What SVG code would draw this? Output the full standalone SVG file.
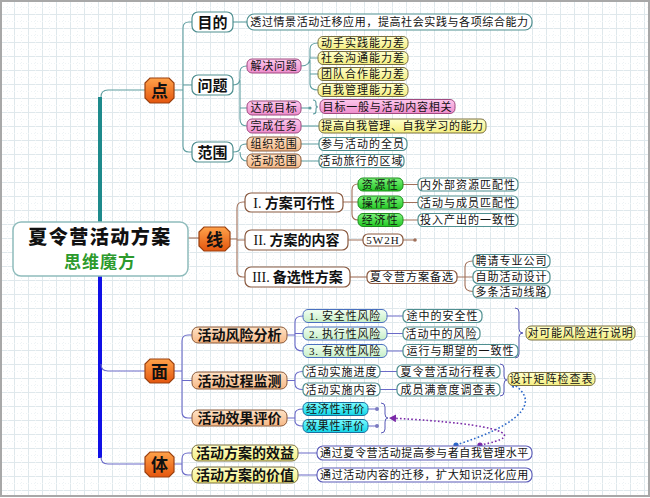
<svg xmlns="http://www.w3.org/2000/svg" width="650" height="498" viewBox="0 0 650 498">
<style>
text{font-family:"Noto Sans CJK SC","Noto Sans",sans-serif;text-anchor:middle;fill:#111}
.l1{font-size:17px;font-weight:700}
.l2{font-size:15px;font-weight:700}
.l3{font-size:14px;font-weight:700}
.t{font-size:11px;letter-spacing:0.8px}
.ser{font-family:"Liberation Serif",serif;font-weight:400}
.cT{fill:none;stroke:#5f9ea0;stroke-width:1.1}
.cB{fill:none;stroke:#a0705a;stroke-width:1.1}
.cP{fill:none;stroke:#6a6ac8;stroke-width:1.1}
.o{fill:url(#gO);stroke:#9a4010;stroke-width:1.2}
.wT{fill:#fff;stroke:#4f8f90;stroke-width:1.2}
.wB{fill:#fff;stroke:#8a5a40;stroke-width:1.2}
.wP{fill:#fff;stroke:#5a5ab8;stroke-width:1.1}
.pk{fill:url(#gPk);stroke:#a04a80;stroke-width:1}
.ye{fill:url(#gY);stroke:#7a7040;stroke-width:1}
.pc{fill:url(#gPc);stroke:#8a5a3a;stroke-width:1}
.gr{fill:url(#gG);stroke:#1c8c1c;stroke-width:1}
.lg{fill:url(#gLg);stroke:#4a70c0;stroke-width:1}
.cy{fill:url(#gC);stroke:#1a70a0;stroke-width:1}
.br{fill:none;stroke:#5a5ab8;stroke-width:1}
</style>
<defs>
<pattern id="grid" width="14" height="14" patternUnits="userSpaceOnUse">
<path d="M0 0.5H14M0.5 0V14" stroke="#dfe8ec" stroke-width="1" fill="none"/>
<path d="M0 7.5H14M7.5 0V14" stroke="#eef3f5" stroke-width="1" stroke-dasharray="1 2" fill="none"/>
</pattern>
<linearGradient id="gO" x1="0" y1="0" x2="0" y2="1"><stop offset="0" stop-color="#ffa24a"/><stop offset="1" stop-color="#e4560e"/></linearGradient>
<linearGradient id="gPk" x1="0" y1="0" x2="0" y2="1"><stop offset="0" stop-color="#fcc8ec"/><stop offset="1" stop-color="#ee8ccc"/></linearGradient>
<linearGradient id="gY" x1="0" y1="0" x2="0" y2="1"><stop offset="0" stop-color="#ffffcc"/><stop offset="1" stop-color="#f4ee80"/></linearGradient>
<linearGradient id="gPc" x1="0" y1="0" x2="0" y2="1"><stop offset="0" stop-color="#fee2c6"/><stop offset="1" stop-color="#f6b886"/></linearGradient>
<linearGradient id="gG" x1="0" y1="0" x2="0" y2="1"><stop offset="0" stop-color="#7cf27c"/><stop offset="1" stop-color="#22c822"/></linearGradient>
<linearGradient id="gLg" x1="0" y1="0" x2="0" y2="1"><stop offset="0" stop-color="#f2fff2"/><stop offset="1" stop-color="#c6eec6"/></linearGradient>
<linearGradient id="gC" x1="0" y1="0" x2="0" y2="1"><stop offset="0" stop-color="#7afcff"/><stop offset="1" stop-color="#10d4e6"/></linearGradient>
<marker id="aB" markerWidth="8" markerHeight="8" refX="6" refY="4" orient="auto" markerUnits="userSpaceOnUse"><path d="M0,0 L7,4 L0,8 Z" fill="#2a66c8"/></marker>
<marker id="aP" markerWidth="8" markerHeight="8" refX="6" refY="4" orient="auto" markerUnits="userSpaceOnUse"><path d="M0,0 L7,4 L0,8 Z" fill="#7a2aa8"/></marker>
</defs>
<rect x="0" y="0" width="650" height="498" fill="#fff"/>
<rect x="1" y="1" width="648" height="495" fill="url(#grid)" stroke="#a8a8a8" stroke-width="2"/>

<g id="connectors">
<path d="M100,222 V97" stroke="#1e8a8c" stroke-width="4" fill="none"/>
<path d="M101,97 Q101,90 108,90 H146" class="cT"/>
<path d="M100,276 V458" stroke="#1010e6" stroke-width="4" fill="none"/>
<path d="M101,364 Q101,371 108,371 H146" class="cP"/>
<path d="M101,457 Q101,464 108,464 H146" class="cP"/>
<path d="M188,238 H199" class="cB"/>
<path d="M174,90 H183 M183,146 V28 Q183,22 189,22 H192 M183,85 H192 M183,146 Q183,152 189,152 H192" class="cT"/>
<path d="M233,22 H247" class="cT"/>
<path d="M233,85 Q240,85 240,78 V72 Q240,66 247,66 M240,80 V119 Q240,126 247,126 M240,108 H247" class="cT"/>
<path d="M301,66 Q310,66 310,58 V49 Q310,43 318,43 M310,58 H318 M310,60 V84 Q310,90 318,90 M310,74 H318" class="cT"/>
<path d="M301,108 H309" class="cT"/>
<circle cx="310" cy="108" r="1.6" fill="#5f9ea0"/>
<path d="M313,100 Q316,100 316,103 V105 Q316,107 318,107 Q316,107 316,109 V111 Q316,114 313,114" class="cT"/>
<path d="M301,126 H319" class="cT"/>
<path d="M233,152 Q240,152 240,148 Q240,144 247,144 M240,152 Q240,161 247,161" class="cT"/>
<path d="M301,144 H319 M301,161 H319" class="cT"/>
<path d="M230,239 H237 M237,271 V208 Q237,202 243,202 H245 M237,240 H245 M237,271 Q237,277 243,277 H245" class="cB"/>
<path d="M343,202 H352 M352,214 V190 Q352,184 358,184 M352,202 H358 M352,214 Q352,220 358,220" class="cB"/>
<path d="M403,184.5 H418 M403,202.5 H418 M403,220 H418" class="cB"/>
<path d="M348,240 H363 M403,240 H414" class="cB"/>
<circle cx="415" cy="240" r="1.8" fill="#a0705a"/>
<path d="M350,277 H367" class="cB"/>
<path d="M457,277 H465 M465,286 V267 Q465,261 473,261 M465,277 H473 M465,285 Q465,291.5 473,291.5" class="cB"/>
<path d="M174,371 H182 M182,412 V341 Q182,335 188,335 H192 M182,380.5 H192 M182,412 Q182,418 188,418 H192" class="cP"/>
<path d="M287,335 H295 M295,345 V322 Q295,316 303,316 M295,333.5 H303 M295,345 Q295,351 303,351" class="cP"/>
<path d="M387,316 H403 M387,333.5 H403 M387,351 H403" class="cP"/>
<path d="M287,380.5 H295 M295,384 V377 Q295,371.5 303,371.5 M295,384 Q295,389.5 303,389.5" class="cP"/>
<path d="M380,371.5 H397 M380,389.5 H397" class="cP"/>
<path d="M287,418 H295 M295,422 V414 Q295,409 303,409 M295,421 Q295,426 303,426" class="cP"/>
<path d="M368,409 H376 M368,426 H376" class="cP"/>
<circle cx="377" cy="409" r="2" fill="#7a7ac0"/>
<circle cx="377" cy="426" r="2" fill="#7a7ac0"/>
<path d="M174,464 H182 M182,470 V459 Q182,453 188,453 H192 M182,469 Q182,475 188,475 H192" class="cP"/>
<path d="M298,453 H317 M298,475 H317" class="cP"/>
<path d="M515,308 Q519,308 519,312 V329 Q519,333 523,333 Q519,333 519,337 V354 Q519,358 515,358" class="br"/>
<path d="M500,364 Q504,364 504,368 V376 Q504,380 507,380 Q504,380 504,384 V392 Q504,396 500,396" class="br"/>
<path d="M381,403 Q385,403 385,407 V414 Q385,418 388,418 Q385,418 385,422 V429 Q385,433 381,433" class="br"/>
<path d="M456,445 C510,428 548,404 510,382" fill="none" stroke="#2a66c8" stroke-width="1.6" stroke-dasharray="1.6 2.2" marker-end="url(#aB)"/>
<circle cx="456" cy="445" r="2.6" fill="#2a66c8"/>
<path d="M480,445 C530,436 505,424 390,418" fill="none" stroke="#7a2aa8" stroke-width="1.6" stroke-dasharray="1.6 2.2" marker-end="url(#aP)"/>
<circle cx="480" cy="445" r="2.6" fill="#7a2aa8"/>
</g>

<g id="title">
<rect x="13" y="222" width="175" height="54" rx="8" fill="#fff" stroke="#8fbcbc" stroke-width="1.5"/>
<text x="100" y="244" style="font-size:19px;font-weight:900;letter-spacing:1.5px">夏令营活动方案</text>
<text x="100" y="268" style="font-size:17px;font-weight:700;fill:#2c9a2c;letter-spacing:1px">思维魔方</text>
</g>

<g id="n-dian"><path class="o" d="M150,78 H169 L174,83 V98 L169,103 H150 L145,98 V83 Z"/><text class="l1" x="159.5" y="96.5">点</text></g>
<g id="n-xian"><path class="o" d="M204,227 H225 L230,232 V246 L225,251 H204 L199,246 V232 Z"/><text class="l1" x="214.5" y="245.5">线</text></g>
<g id="n-mian"><path class="o" d="M150,359 H169 L174,364 V378 L169,383 H150 L145,378 V364 Z"/><text class="l1" x="159.5" y="377.5">面</text></g>
<g id="n-ti"><path class="o" d="M150,452 H169 L174,457 V472 L169,477 H150 L145,472 V457 Z"/><text class="l1" x="159.5" y="470.5">体</text></g>

<g id="n-mudi"><rect class="wT" x="192" y="12" width="41" height="20" rx="6"/><text class="l2" x="212.5" y="27.5">目的</text></g>
<g id="n-mudi-1"><rect class="wT" x="247" y="14" width="285" height="16" rx="7"/><text class="t" x="389.5" y="26.2" style="letter-spacing:0.6px">透过情景活动迁移应用，提高社会实践与各项综合能力</text></g>
<g id="n-wenti"><rect class="wT" x="192" y="75" width="41" height="20" rx="6"/><text class="l2" x="212.5" y="90.5">问题</text></g>
<g id="n-jiejue"><rect class="pk" x="247" y="59" width="54" height="14" rx="5"/><text class="t" x="274" y="70.2">解决问题</text></g>
<g id="n-j1"><rect class="ye" x="318" y="36.5" width="90" height="13" rx="5"/><text class="t" x="363" y="47.2" style="letter-spacing:1px">动手实践能力差</text></g>
<g id="n-j2"><rect class="ye" x="318" y="51.5" width="90" height="13" rx="5"/><text class="t" x="363" y="62.2" style="letter-spacing:1px">社会沟通能力差</text></g>
<g id="n-j3"><rect class="ye" x="318" y="67.5" width="90" height="13" rx="5"/><text class="t" x="363" y="78.2" style="letter-spacing:1px">团队合作能力差</text></g>
<g id="n-j4"><rect class="ye" x="318" y="83.5" width="90" height="13" rx="5"/><text class="t" x="363" y="94.2" style="letter-spacing:1px">自我管理能力差</text></g>
<g id="n-dacheng"><rect class="pk" x="247" y="101" width="54" height="14" rx="5"/><text class="t" x="274" y="112.2">达成目标</text></g>
<g id="n-d1"><rect class="pk" x="320" y="99.5" width="135" height="14" rx="5"/><text class="t" x="387.5" y="110.7">目标一般与活动内容相关</text></g>
<g id="n-wancheng"><rect class="pk" x="247" y="119" width="54" height="14" rx="5"/><text class="t" x="274" y="130.2">完成任务</text></g>
<g id="n-w1"><rect class="ye" x="319" y="119" width="167" height="14" rx="5"/><text class="t" x="402.5" y="130.2" style="letter-spacing:0.6px">提高自我管理、自我学习的能力</text></g>
<g id="n-fanwei"><rect class="wT" x="192" y="142" width="41" height="20" rx="6"/><text class="l2" x="212.5" y="157.5">范围</text></g>
<g id="n-zuzhi"><rect class="pc" x="247" y="137" width="54" height="14" rx="5"/><text class="t" x="274" y="148.2">组织范围</text></g>
<g id="n-z1"><rect class="wT" x="319" y="137.5" width="88" height="13" rx="5"/><text class="t" x="363" y="148.2" style="letter-spacing:1px">参与活动的全员</text></g>
<g id="n-huodong"><rect class="pc" x="247" y="154" width="54" height="14" rx="5"/><text class="t" x="274" y="165.2">活动范围</text></g>
<g id="n-h1"><rect class="wT" x="319" y="154.5" width="85" height="13" rx="5"/><text class="t" x="361.5" y="165.2" style="letter-spacing:1px">活动旅行的区域</text></g>

<g id="n-I"><rect class="wB" x="245" y="193" width="98" height="19" rx="6"/><text class="l3" x="294" y="207.8"><tspan class="ser">I.</tspan> 方案可行性</text></g>
<g id="n-I1"><rect class="gr" x="358" y="178" width="45" height="13" rx="5"/><text class="t" x="380.5" y="188.7" style="letter-spacing:1.5px">资源性</text></g>
<g id="n-I2"><rect class="gr" x="358" y="196" width="45" height="13" rx="5"/><text class="t" x="380.5" y="206.7" style="letter-spacing:1.5px">操作性</text></g>
<g id="n-I3"><rect class="gr" x="358" y="213.5" width="45" height="13" rx="5"/><text class="t" x="380.5" y="224.2" style="letter-spacing:1.5px">经济性</text></g>
<g id="n-I1a"><rect class="wT" x="418" y="178" width="100" height="13" rx="5"/><text class="t" x="468" y="188.7" style="letter-spacing:1px">内外部资源匹配性</text></g>
<g id="n-I2a"><rect class="wT" x="418" y="196" width="100" height="13" rx="5"/><text class="t" x="468" y="206.7" style="letter-spacing:1px">活动与成员匹配性</text></g>
<g id="n-I3a"><rect class="wT" x="418" y="213.5" width="100" height="13" rx="5"/><text class="t" x="468" y="224.2" style="letter-spacing:1px">投入产出的一致性</text></g>
<g id="n-II"><rect class="wB" x="245" y="230" width="103" height="20" rx="6"/><text class="l3" x="296.5" y="245.3"><tspan class="ser">II.</tspan> 方案的内容</text></g>
<g id="n-II1"><rect class="wB" x="363" y="234" width="40" height="12" rx="5"/><text class="ser" x="383" y="244" style="font-size:11px;letter-spacing:1px">5W2H</text></g>
<g id="n-III"><rect class="wB" x="245" y="267" width="105" height="20" rx="6"/><text class="l3" x="297.5" y="282.3"><tspan class="ser">III.</tspan> 备选性方案</text></g>
<g id="n-III1"><rect class="wB" x="367" y="270.5" width="90" height="13" rx="5"/><text class="t" x="412" y="281.2" style="letter-spacing:1px">夏令营方案备选</text></g>
<g id="n-III1a"><rect class="wT" x="473" y="254.5" width="77" height="13" rx="5"/><text class="t" x="511.5" y="265.2" style="letter-spacing:1px">聘请专业公司</text></g>
<g id="n-III1b"><rect class="wT" x="473" y="270.5" width="77" height="13" rx="5"/><text class="t" x="511.5" y="281.2" style="letter-spacing:1px">自助活动设计</text></g>
<g id="n-III1c"><rect class="wT" x="473" y="285" width="77" height="13" rx="5"/><text class="t" x="511.5" y="295.7" style="letter-spacing:1px">多条活动线路</text></g>

<g id="n-fengxian"><rect class="pc" x="192" y="327" width="95" height="16" rx="6"/><text class="l3" x="239.5" y="340.3">活动风险分析</text></g>
<g id="n-f1"><rect class="lg" x="303" y="309.5" width="84" height="13" rx="5"/><text class="t" x="345" y="320.2"><tspan class="ser">1.</tspan> 安全性风险</text></g>
<g id="n-f2"><rect class="lg" x="303" y="327" width="84" height="13" rx="5"/><text class="t" x="345" y="337.7"><tspan class="ser">2.</tspan> 执行性风险</text></g>
<g id="n-f3"><rect class="lg" x="303" y="344.5" width="84" height="13" rx="5"/><text class="t" x="345" y="355.2"><tspan class="ser">3.</tspan> 有效性风险</text></g>
<g id="n-f1a"><rect class="wT" x="403" y="309.5" width="79" height="13" rx="5"/><text class="t" x="442.5" y="320.2" style="letter-spacing:1px">途中的安全性</text></g>
<g id="n-f2a"><rect class="wT" x="403" y="327" width="77" height="13" rx="5"/><text class="t" x="441.5" y="337.7" style="letter-spacing:1px">活动中的风险</text></g>
<g id="n-f3a"><rect class="wT" x="403" y="344.5" width="115" height="13" rx="5"/><text class="t" x="460.5" y="355.2" style="letter-spacing:1px">运行与期望的一致性</text></g>
<g id="n-fsum"><rect class="ye" x="526" y="326" width="109" height="14" rx="5"/><text class="t" x="580.5" y="337.2">对可能风险进行说明</text></g>
<g id="n-jiance"><rect class="pc" x="192" y="372" width="95" height="17" rx="6"/><text class="l3" x="239.5" y="385.8">活动过程监测</text></g>
<g id="n-jc1"><rect class="wT" x="303" y="365" width="77" height="13" rx="5"/><text class="t" x="341.5" y="375.7" style="letter-spacing:1px">活动实施进度</text></g>
<g id="n-jc2"><rect class="wT" x="303" y="383" width="77" height="13" rx="5"/><text class="t" x="341.5" y="393.7" style="letter-spacing:1px">活动实施内容</text></g>
<g id="n-jc1a"><rect class="wT" x="397" y="365" width="103" height="13" rx="5"/><text class="t" x="448.5" y="375.7" style="letter-spacing:1px">夏令营活动行程表</text></g>
<g id="n-jc2a"><rect class="wT" x="397" y="383" width="103" height="13" rx="5"/><text class="t" x="448.5" y="393.7" style="letter-spacing:1px">成员满意度调查表</text></g>
<g id="n-jcsum"><rect class="ye" x="508" y="372.5" width="87" height="13" rx="5"/><text class="t" x="551.5" y="383.2" style="letter-spacing:1px">设计矩阵检查表</text></g>
<g id="n-pingjia"><rect class="pc" x="192" y="410" width="95" height="16" rx="6"/><text class="l3" x="239.5" y="423.3">活动效果评价</text></g>
<g id="n-pj1"><rect class="cy" x="303" y="402.5" width="65" height="13" rx="5"/><text class="t" x="335.5" y="413.2">经济性评价</text></g>
<g id="n-pj2"><rect class="cy" x="303" y="419.5" width="65" height="13" rx="5"/><text class="t" x="335.5" y="430.2">效果性评价</text></g>

<g id="n-xiaoyi"><rect class="ye" x="192" y="445" width="106" height="16" rx="6"/><text class="l3" x="245" y="458.3">活动方案的效益</text></g>
<g id="n-xy1"><rect class="wP" x="317" y="446" width="215" height="14" rx="6"/><text class="t" x="424.5" y="457.2" style="letter-spacing:0.6px">通过夏令营活动提高参与者自我管理水平</text></g>
<g id="n-jiazhi"><rect class="ye" x="192" y="467" width="106" height="16" rx="6"/><text class="l3" x="245" y="480.3">活动方案的价值</text></g>
<g id="n-jz1"><rect class="wP" x="317" y="468" width="215" height="14" rx="6"/><text class="t" x="424.5" y="479.2" style="letter-spacing:0.6px">通过活动内容的迁移，扩大知识泛化应用</text></g>
</svg>
